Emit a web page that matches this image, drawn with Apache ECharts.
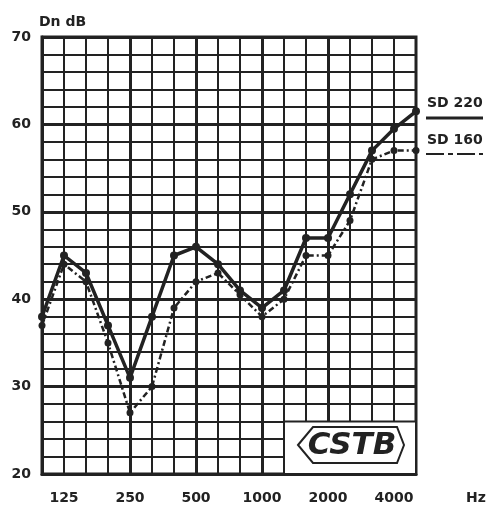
<!DOCTYPE html>
<html>
<head>
<meta charset="utf-8">
<script src="https://cdn.jsdelivr.net/npm/echarts@6/dist/echarts.min.js"></script>
<style>
  html, body { margin: 0; padding: 0; background: #fff; }
  #chart { width: 488px; height: 507px; }
</style>
</head>
<body>
<div id="chart"></div>
<script>
const freqs = ["100", "125", "160", "200", "250", "315", "400", "500", "630", "800", "1000", "1250", "1600", "2000", "2500", "3150", "4000", "5000"];
const xTickLabels = ["125", "250", "500", "1000", "2000", "4000"];
const octaveLines = ["250", "500", "1000", "2000"];
const sd220 = [38, 45, 43, 37, 31, 38, 45, 46, 44, 41, 39, 41, 47, 47, 52, 57, 59.5, 61.5];
const sd160 = [37, 44, 42, 35, 27, 30, 39, 42, 43, 40.5, 38, 40, 45, 45, 49, 56, 57, 57];

const ink = "#222";
const font = "DejaVu Sans";

const chart = echarts.init(document.getElementById("chart"), null, { renderer: "canvas" });

const option = {
  animation: false,
  backgroundColor: "#fff",
  grid: {
    left: 42, right: 72, top: 37, bottom: 33,
    show: true, borderColor: ink, borderWidth: 3,
  },
  xAxis: {
    type: "category",
    data: freqs,
    boundaryGap: false,
    axisLine: { show: true, lineStyle: { color: ink, width: 3 } },
    axisTick: { show: false },
    axisLabel: {
      interval: (idx, val) => xTickLabels.includes(val),
      margin: 17,
      color: ink,
      fontFamily: font,
      fontWeight: "bold",
      fontSize: 14,
    },
    splitLine: { show: true, interval: 0, lineStyle: { color: ink, width: 2 } },
  },
  yAxis: {
    type: "value",
    min: 20, max: 70, interval: 10,
    name: "Dn dB",
    nameLocation: "end",
    nameGap: 8,
    nameTextStyle: { color: ink, fontFamily: font, fontWeight: "bold", fontSize: 14, align: "left", padding: [0, 0, 0, -3] },
    axisLine: { show: true, lineStyle: { color: ink, width: 3 } },
    axisTick: { show: false },
    axisLabel: { margin: 11, color: ink, fontFamily: font, fontWeight: "bold", fontSize: 14 },
    splitLine: { show: true, lineStyle: { color: ink, width: 3 } },
    minorTick: { show: false, splitNumber: 5 },
    minorSplitLine: { show: true, lineStyle: { color: ink, width: 2 } },
  },
  series: [
    {
      // thick octave lines
      type: "line", data: [], z: 1, silent: true,
      markLine: {
        silent: true, symbol: "none", label: { show: false }, z: 1,
        lineStyle: { color: ink, width: 3, type: "solid" },
        data: octaveLines.map((f) => ({ xAxis: f })),
      },
    },
    {
      // blank box for the logo
      type: "line", data: [], z: 2, silent: true,
      markArea: {
        silent: true, z: 2,
        itemStyle: { color: "#fff", borderColor: ink, borderWidth: 2 },
        data: [[{ xAxis: "1250", yAxis: 26 }, { xAxis: "5000", yAxis: 20 }]],
      },
    },
    {
      name: "SD 220", type: "line", data: sd220, z: 4,
      symbol: "circle", symbolSize: 8,
      lineStyle: { color: ink, width: 3.5 },
      itemStyle: { color: ink },
    },
    {
      name: "SD 160", type: "line", data: sd160, z: 3,
      symbol: "circle", symbolSize: 7,
      lineStyle: { color: ink, width: 2.5, type: [6, 3, 2, 3] },
      itemStyle: { color: ink },
    },
  ],
  graphic: [
    { type: "text", left: 427, top: 96, z: 10, style: { text: "SD 220", fill: ink, font: "bold 14px " + font } },
    { type: "line", z: 10, shape: { x1: 426, y1: 118, x2: 483, y2: 118 }, style: { stroke: ink, lineWidth: 3 } },
    { type: "text", left: 427, top: 133, z: 10, style: { text: "SD 160", fill: ink, font: "bold 14px " + font } },
    { type: "line", z: 10, shape: { x1: 426, y1: 154, x2: 483, y2: 154 }, style: { stroke: ink, lineWidth: 2, lineDash: [18, 4, 5, 4] } },
    { type: "text", left: 466, top: 491, z: 10, style: { text: "Hz", fill: ink, font: "bold 14px " + font } },
    {
      type: "polygon", z: 10,
      shape: { points: [[298, 445], [313, 427], [397, 427], [404, 445], [397, 463], [313, 463]] },
      style: { fill: "none", stroke: ink, lineWidth: 2 },
    },
    { type: "text", x: 352, y: 446, z: 10, style: { text: "CSTB", fill: ink, font: "italic bold 31px " + font, align: "center", verticalAlign: "middle" } },
  ],
};

chart.setOption(option);
</script>
</body>
</html>
